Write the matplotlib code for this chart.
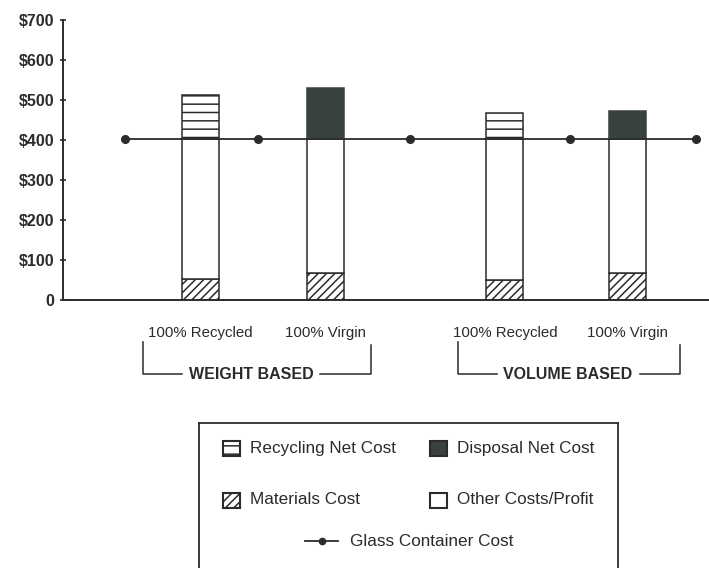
import numpy as np
import matplotlib
matplotlib.use("Agg")
import matplotlib.pyplot as plt
from matplotlib.patches import Rectangle
from matplotlib.lines import Line2D
import matplotlib.transforms as mtransforms

plt.rcParams['font.family'] = ['Liberation Sans', 'DejaVu Sans']
plt.rcParams['hatch.linewidth'] = 1.1
plt.rcParams['hatch.color'] = '#333333'

# cost per ton, stacked components
categories = ['100% Recycled', '100% Virgin', '100% Recycled', '100% Virgin']
materials = [52, 67, 50, 68]
other_costs = [351, 336, 353, 335]
recycling = [110, 0, 65, 0]
disposal = [0, 126, 0, 70]

glass_cost = [403, 403, 403, 403, 403]

# horizontal positions of bars and of the glass-cost points
bar_pos = [1.06, 2.02, 3.40, 4.34]
glass_pos = [0.48, 1.50, 2.67, 3.90, 4.87]
groups = ['WEIGHT BASED', 'VOLUME BASED']

ink = '#2b2b2b'
dark = '#3a4240'

fig = plt.figure(figsize=(7.09, 5.68), dpi=100)
ax = fig.add_axes([63 / 709, 268 / 568, 646 / 709, 280 / 568])

w = 0.285
mat = np.array(materials)
oth = np.array(other_costs)
base2 = mat + oth
ax.bar(bar_pos, materials, w, color='white', edgecolor=ink, hatch='////', lw=1.1, zorder=2)
ax.bar(bar_pos, other_costs, w, bottom=mat, color='white', edgecolor=ink, lw=1.1, zorder=2)
for x, r, b in zip(bar_pos, recycling, base2):
    if r > 0:
        ax.bar(x, r, w, bottom=b, color='white', edgecolor=ink, hatch='--', lw=1.1, zorder=2)
for x, d, b in zip(bar_pos, disposal, base2):
    if d > 0:
        ax.bar(x, d, w, bottom=b, color=dark, edgecolor=dark, lw=1.1, zorder=2)

ax.plot(glass_pos, glass_cost, color=ink, lw=1.3, marker='o', ms=5.5, zorder=3)

ax.set_xlim(0, 4.97)
ax.set_ylim(0, 700)
ax.set_yticks(range(0, 701, 100))
ax.set_yticklabels(['0'] + ['$%d' % v for v in range(100, 701, 100)])
ax.tick_params(axis='y', direction='inout', length=5, width=1.2, colors=ink,
               labelsize=11.5, pad=4)
for t in ax.get_yticklabels():
    t.set_fontweight('bold')
ax.set_xticks(bar_pos)
ax.set_xticklabels(categories, fontsize=10.8)
ax.tick_params(axis='x', length=0, pad=19, colors=ink)
for s in ['top', 'right']:
    ax.spines[s].set_visible(False)
for s in ['left', 'bottom']:
    ax.spines[s].set_color(ink)
    ax.spines[s].set_linewidth(1.4)

# group brackets under the category labels
tr = mtransforms.blended_transform_factory(ax.transData, ax.transAxes)
brackets = [(0.615, 0.915, 1.45, 1.977, 2.37), (3.04, 3.34, 3.885, 4.44, 4.75)]
for name, (x0, g0, xc, g1, x1) in zip(groups, brackets):
    kw = dict(color=ink, lw=1.1, transform=tr, clip_on=False)
    ax.plot([x0, x0, g0], [-0.15, -0.264, -0.264], **kw)
    ax.plot([g1, x1, x1], [-0.264, -0.264, -0.16], **kw)
    ax.text(xc, -0.267, name, transform=tr, ha='center', va='center',
            fontsize=11.5, fontweight='bold', color=ink)

# legend box
lx = fig.add_axes([199 / 709, 0, 419 / 709, 145 / 568])
lx.set_xlim(0, 419)
lx.set_ylim(145, 0)
lx.set_xticks([])
lx.set_yticks([])
lx.spines['bottom'].set_visible(False)
for s in ['top', 'left', 'right']:
    lx.spines[s].set_color(ink)
    lx.spines[s].set_linewidth(1.3)

items = [
    (24, 25, dict(facecolor='white', hatch='--'), 'Recycling Net Cost'),
    (231, 25, dict(facecolor=dark), 'Disposal Net Cost'),
    (24, 77, dict(facecolor='white', hatch='////'), 'Materials Cost'),
    (231, 77, dict(facecolor='white'), 'Other Costs/Profit'),
]
for x, y, style, label in items:
    lx.add_patch(Rectangle((x, y - 7.5), 17, 15, edgecolor=ink, lw=1.5, **style))
    lx.text(x + 27, y, label, va='center', ha='left', fontsize=12.3, color=ink)
lx.add_line(Line2D([106, 139], [118, 118], color=ink, lw=1.3))
lx.plot([122.5], [118], 'o', color=ink, ms=4.5)
lx.text(151, 118, 'Glass Container Cost', va='center', ha='left', fontsize=12.3, color=ink)

fig.savefig('out.png', dpi=100)
